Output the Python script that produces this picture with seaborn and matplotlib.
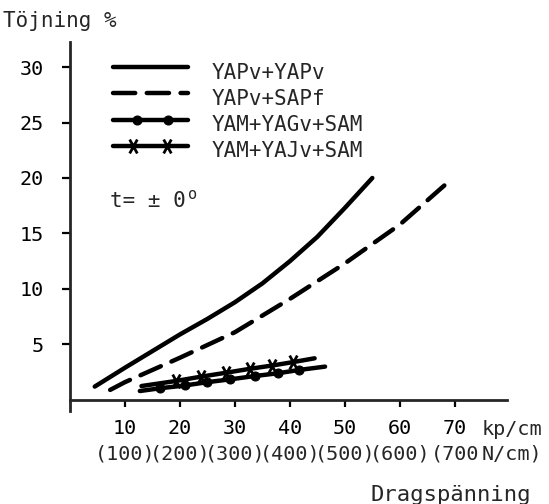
import numpy as np
import pandas as pd
import matplotlib
matplotlib.use("Agg")
import matplotlib.pyplot as plt
import seaborn as sns
from matplotlib.legend_handler import HandlerLine2D
from matplotlib.lines import Line2D
from matplotlib.path import Path

# Elongation (%) against tensile stress (kp/cm) for four seam constructions
series_names = ["YAPv+YAPv", "YAPv+SAPf", "YAM+YAGv+SAM", "YAM+YAJv+SAM"]

yapv_yapv_x = [4.5, 10, 20, 25, 30, 35, 40, 45, 50, 55]
yapv_yapv_y = [1.2, 2.9, 5.9, 7.3, 8.8, 10.5, 12.5, 14.7, 17.3, 20.0]

yapv_sapf_x = [7.3, 10, 20, 30, 40, 50, 60, 68.5]
yapv_sapf_y = [0.9, 1.6, 3.8, 6.1, 9.1, 12.3, 15.8, 19.5]

yam_yagv_x = [12.7, 16.4, 20.9, 25.0, 29.1, 33.6, 37.8, 41.7, 46.4]
yam_yagv_y = [0.8, 1.05, 1.3, 1.6, 1.85, 2.15, 2.4, 2.7, 3.0]

yam_yajv_x = [13.0, 19.2, 23.9, 28.4, 32.7, 36.8, 40.5, 44.5]
yam_yajv_y = [1.25, 1.7, 2.1, 2.45, 2.8, 3.1, 3.4, 3.75]

x_ticks = [10, 20, 30, 40, 50, 60, 70]
kp_labels = ["10", "20", "30", "40", "50", "60", "70"]
n_labels = ["(100)", "(200)", "(300)", "(400)", "(500)", "(600)", "(700"]
y_ticks = [5, 10, 15, 20, 25, 30]
y_labels = ["5", "10", "15", "20", "25", "30"]

sns.set_style("ticks")
plt.rcParams["font.family"] = ["DejaVu Sans Mono", "DejaVu Sans"]

W, H = 549, 504
fig = plt.figure(figsize=(W / 100, H / 100), dpi=100, facecolor="white")
ax = fig.add_axes([70 / W, (H - 411) / H, 437 / W, 369.5 / H])
ax.set_facecolor("white")

LW = 3.2
cross = Path([(-0.55, -1), (0.55, 1), (-0.55, 1), (0.55, -1)],
             [Path.MOVETO, Path.LINETO, Path.MOVETO, Path.LINETO])

sns.lineplot(x=yapv_yapv_x, y=yapv_yapv_y, ax=ax, color="black", lw=LW,
             linestyle="-", solid_capstyle="round", solid_joinstyle="round",
             label=series_names[0])
sns.lineplot(x=yapv_sapf_x, y=yapv_sapf_y, ax=ax, color="black", lw=LW,
             linestyle=(0, (5, 2.6)), dash_capstyle="round",
             label=series_names[1])
sns.lineplot(x=yam_yagv_x, y=yam_yagv_y, ax=ax, color="black", lw=LW,
             linestyle="-", solid_capstyle="round", marker="o",
             markersize=6.5, markerfacecolor="black", markeredgecolor="black",
             markevery=slice(1, -1), label=series_names[2])
sns.lineplot(x=yam_yajv_x, y=yam_yajv_y, ax=ax, color="black", lw=LW,
             linestyle="-", solid_capstyle="round", marker=cross,
             markersize=10, markeredgewidth=2.0, markerfacecolor="black",
             markeredgecolor="black", markevery=slice(1, -1),
             label=series_names[3])

ax.set_xlim(0, 79.5)
ax.set_ylim(-1, 32.3)
for s in ("top", "right"):
    ax.spines[s].set_visible(False)
ax.spines["bottom"].set_position(("data", 0))
ax.spines["bottom"].set_linewidth(2)
ax.spines["left"].set_linewidth(2)

ax.set_xticks(x_ticks)
ax.set_xticklabels(kp_labels)
ax.set_yticks(y_ticks)
ax.set_yticklabels(y_labels)
ax.tick_params(axis="x", direction="out", length=5, width=1.6, pad=9,
               labelsize=14.5, colors="black")
ax.tick_params(axis="y", direction="out", length=5.8, width=1.6, pad=13,
               labelsize=14.5, colors="black")
ax.set_xlabel("")
ax.set_ylabel("")

# second row of the stress scale in N/cm
for xv, lab in zip(x_ticks, n_labels):
    ax.annotate(lab, xy=(xv, 0), xycoords="data", xytext=(0, -38.9),
                textcoords="offset points", ha="center", va="center",
                fontsize=14.5, annotation_clip=False)
ax.annotate("kp/cm", xy=(70, 0), xycoords="data", xytext=(19, -21.6),
            textcoords="offset points", ha="left", va="center",
            fontsize=14.5, annotation_clip=False)
ax.annotate("N/cm)", xy=(70, 0), xycoords="data", xytext=(19, -38.9),
            textcoords="offset points", ha="left", va="center",
            fontsize=14.5, annotation_clip=False)

# angle note
ax.text(7.3, 17.9, "t= \u00b1 0", fontsize=15, ha="left", va="center")
ax.annotate("o", xy=(7.3, 17.9), xycoords="data", xytext=(56, 5),
            textcoords="offset points", fontsize=11, ha="left", va="center")

fig.text(3 / W, (H - 21) / H, "Töjning %", fontsize=15, ha="left", va="center")
fig.text(370 / W, (H - 501) / H, "Dragspänning", fontsize=16, ha="left",
         va="baseline")


class SpacedMarkerHandler(HandlerLine2D):
    def __init__(self, fracs=(), **kw):
        super().__init__(**kw)
        self.fracs = list(fracs)

    def create_artists(self, legend, orig_handle, xdescent, ydescent,
                       width, height, fontsize, trans):
        xs = -xdescent + width * np.array([0.0] + self.fracs + [1.0])
        ys = np.full_like(xs, (height - ydescent) / 2 + 3.0)
        line = Line2D(xs, ys)
        self.update_prop(line, orig_handle, legend)
        line.set_markevery(list(range(1, len(xs) - 1)))
        line.set_transform(trans)
        return [line]


handles = ax.get_lines()[:4]
fracs = [(), (), (0.32, 0.73), (0.27, 0.72)]
hmap = {h: SpacedMarkerHandler(f) for h, f in zip(handles, fracs)}
ax.legend(handles=handles, labels=series_names, handler_map=hmap,
          frameon=False, loc="upper left",
          bbox_to_anchor=(0.098, 0.943), borderaxespad=0, borderpad=0,
          handlelength=3.6, handletextpad=1.15, labelspacing=0.3,
          prop={"size": 15})

fig.savefig("out.png", dpi=100, facecolor="white")
